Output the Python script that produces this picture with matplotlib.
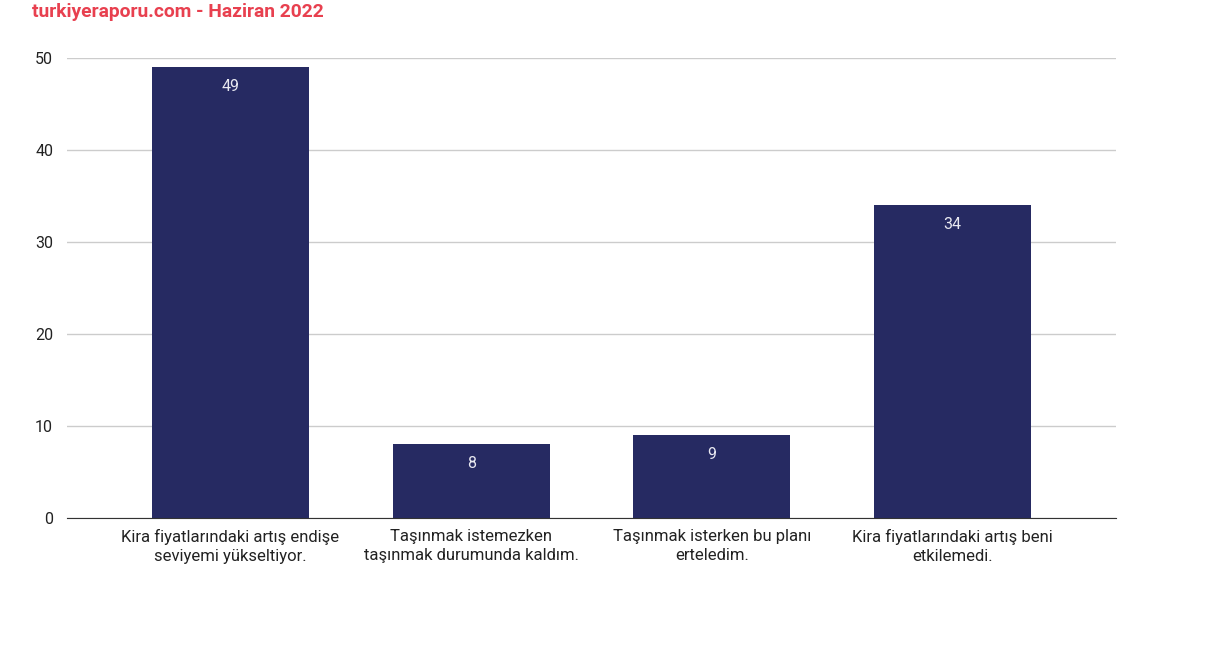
import matplotlib
matplotlib.use("Agg")
import matplotlib.pyplot as plt

categories = [
    "Kira fiyatlarındaki artış endişe\nseviyemi yükseltiyor.",
    "Taşınmak istemezken\ntaşınmak durumunda kaldım.",
    "Taşınmak isterken bu planı\nerteledim.",
    "Kira fiyatlarındaki artış beni\netkilemedi.",
]
values = [49, 8, 9, 34]
yticks = [0, 10, 20, 30, 40, 50]

plt.rcParams["font.family"] = ["Roboto", "DejaVu Sans"]

fig = plt.figure(figsize=(12.3, 6.54), dpi=100)
ax = fig.add_axes([0.0545, 0.208, 0.8528, 0.7032])

x = list(range(len(values)))
bars = ax.bar(x, values, width=0.652, color="#262a62", zorder=3)
for xi, v in zip(x, values):
    ax.text(xi, v - 2.05, str(v), ha="center", va="center", color="#e8e8f0", fontsize=11.5, zorder=4)

ax.set_xlim(-0.679, 3.679)
ax.set_ylim(0, 50)
ax.set_yticks(yticks)
ax.set_xticks(x)
ax.set_xticklabels(categories, fontsize=12, color="#222222", linespacing=1.35)
ax.tick_params(axis="y", length=0, pad=10, labelsize=11.5, labelcolor="#222222")
ax.tick_params(axis="x", length=0, pad=8)
ax.grid(axis="y", color="#cccccc", linewidth=1, zorder=0)
for s in ["top", "right", "left"]:
    ax.spines[s].set_visible(False)
ax.spines["bottom"].set_color("#333333")
ax.spines["bottom"].set_zorder(5)

fig.text(32 / 1230, 1 - 12 / 654, "turkiyeraporu.com - Haziran 2022", color="#e8404f",
         fontsize=13.9, fontweight="bold", ha="left", va="center")

fig.savefig("out.png", dpi=100)
